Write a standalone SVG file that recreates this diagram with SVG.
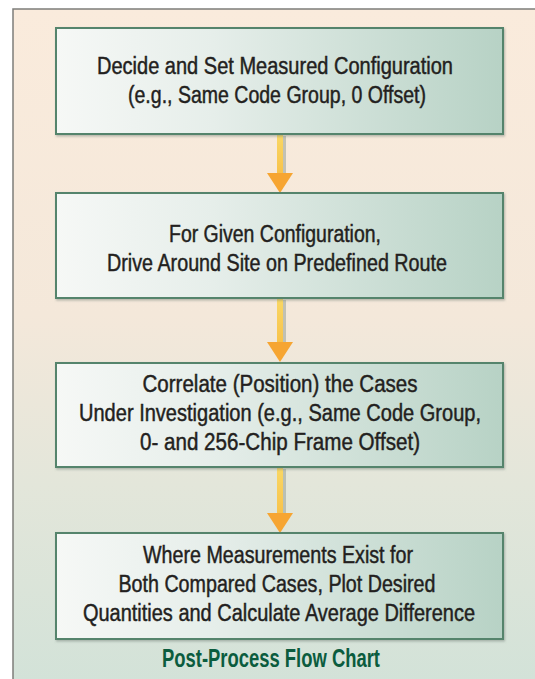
<svg xmlns="http://www.w3.org/2000/svg" width="535" height="679" viewBox="0 0 535 679">
<defs>
<linearGradient id="bg" x1="0" y1="0" x2="0" y2="1">
<stop offset="0" stop-color="#faebdc"/>
<stop offset="0.45" stop-color="#f4e8da"/>
<stop offset="0.7" stop-color="#e3e6da"/>
<stop offset="1" stop-color="#d2e2d8"/>
</linearGradient>
<linearGradient id="box" x1="0" y1="0" x2="1" y2="0">
<stop offset="0" stop-color="#f6f8f6"/>
<stop offset="0.35" stop-color="#e6eeea"/>
<stop offset="1" stop-color="#b7d2c5"/>
</linearGradient>
<linearGradient id="shaft" x1="0" y1="0" x2="0" y2="1">
<stop offset="0" stop-color="#f9d765"/>
<stop offset="1" stop-color="#f8c24a"/>
</linearGradient>
<filter id="sh" x="-5%" y="-5%" width="110%" height="115%">
<feDropShadow dx="1" dy="1.5" stdDeviation="1.2" flood-color="#6f7f76" flood-opacity="0.5"/>
</filter>
</defs>
<style>
.box{fill:url(#box);stroke:#55846c;stroke-width:2;filter:url(#sh)}
.t{font-family:"Liberation Sans",Arial,sans-serif;font-size:23px;fill:#231f20;stroke:#231f20;stroke-width:0.45;text-anchor:middle}
.title{font-family:"Liberation Sans",Arial,sans-serif;font-size:25px;font-weight:bold;fill:#0b5c3e;text-anchor:middle}
.shaft{fill:url(#shaft)}
.shadow{fill:#9ea69b;opacity:0.6}
.head{fill:#f6a532}
</style>
<rect x="0" y="0" width="535" height="679" fill="#ffffff"/>
<rect x="13" y="9" width="530" height="680" fill="url(#bg)" stroke="#7d7d7a" stroke-width="1.5"/>

<g id="connectors">
<g id="arrow1">
<rect class="shadow" x="283" y="136" width="3" height="38"/>
<rect class="shaft" x="277" y="135" width="6" height="39"/>
<polygon class="head" points="267,173 293,173 280,193"/>
</g>
<g id="arrow2">
<rect class="shadow" x="283" y="300" width="3" height="43"/>
<rect class="shaft" x="277" y="299" width="6" height="44"/>
<polygon class="head" points="267,342 293,342 280,362"/>
</g>
<g id="arrow3">
<rect class="shadow" x="283" y="469" width="3" height="45"/>
<rect class="shaft" x="277" y="468" width="6" height="46"/>
<polygon class="head" points="267,513 293,513 280,533"/>
</g>
</g>

<g id="node1">
<rect class="box" x="56" y="28" width="447" height="106"/>
<text class="t" x="275" y="74" textLength="356" lengthAdjust="spacingAndGlyphs">Decide and Set Measured Configuration</text>
<text class="t" x="277" y="103" textLength="298" lengthAdjust="spacingAndGlyphs">(e.g., Same Code Group, 0 Offset)</text>
</g>
<g id="node2">
<rect class="box" x="56" y="193" width="447" height="105"/>
<text class="t" x="275" y="242" textLength="212" lengthAdjust="spacingAndGlyphs">For Given Configuration,</text>
<text class="t" x="277" y="271" textLength="340" lengthAdjust="spacingAndGlyphs">Drive Around Site on Predefined Route</text>
</g>
<g id="node3">
<rect class="box" x="56" y="363" width="447" height="104"/>
<text class="t" x="280" y="392" textLength="275" lengthAdjust="spacingAndGlyphs">Correlate (Position) the Cases</text>
<text class="t" x="280" y="421" textLength="402" lengthAdjust="spacingAndGlyphs">Under Investigation (e.g., Same Code Group,</text>
<text class="t" x="280" y="450" textLength="280" lengthAdjust="spacingAndGlyphs">0- and 256-Chip Frame Offset)</text>
</g>
<g id="node4">
<rect class="box" x="56" y="533" width="447" height="106"/>
<text class="t" x="278" y="563" textLength="270" lengthAdjust="spacingAndGlyphs">Where Measurements Exist for</text>
<text class="t" x="277" y="592" textLength="317" lengthAdjust="spacingAndGlyphs">Both Compared Cases, Plot Desired</text>
<text class="t" x="279" y="621" textLength="392" lengthAdjust="spacingAndGlyphs">Quantities and Calculate Average Difference</text>
</g>
<g id="caption">
<text class="title" x="271" y="667" textLength="218" lengthAdjust="spacingAndGlyphs">Post-Process Flow Chart</text>
</g>
</svg>
